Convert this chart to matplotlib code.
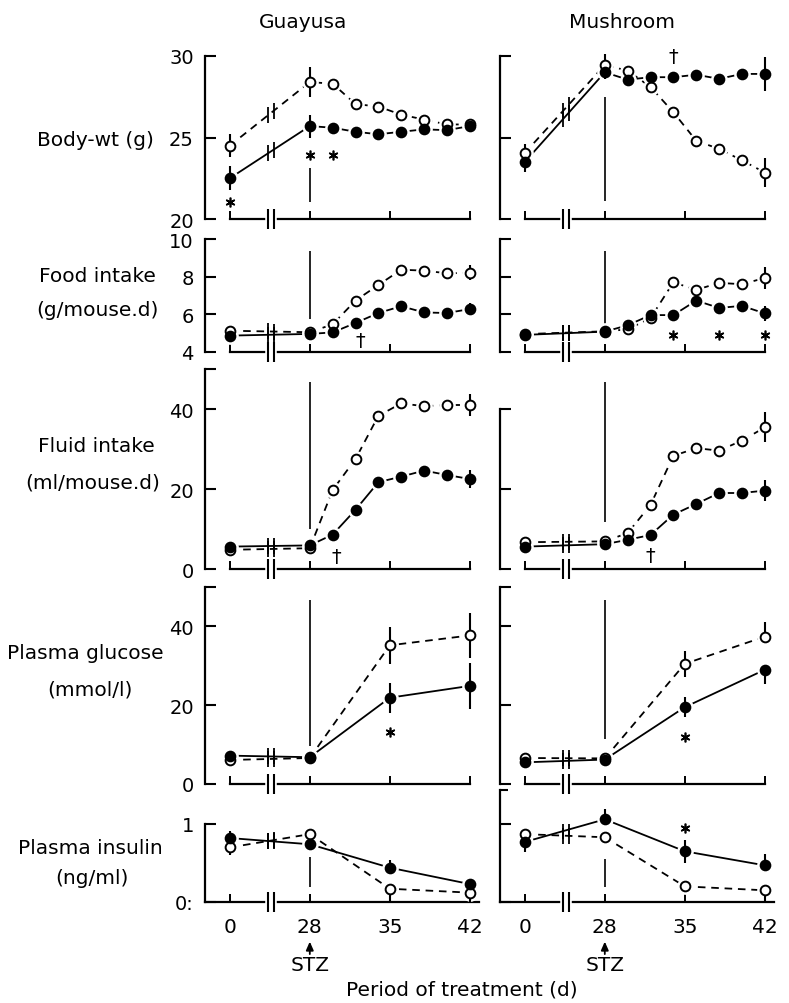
import numpy as np
import matplotlib
matplotlib.use("Agg")
import matplotlib.pyplot as plt
from matplotlib.transforms import offset_copy, blended_transform_factory

plt.rcParams['font.family'] = ['DejaVu Sans']

# ---- data ----
days_wt = [0, 28, 30, 32, 34, 36, 38, 40, 42]   # body-wt, food, fluid
days_pl = [0, 28, 35, 42]                       # plasma values

# body weight (g)
gua_wt_open = [24.5, 28.4, 28.3, 27.05, 26.9, 26.4, 26.1, 25.8, 25.8]
gua_wt_open_err = [0.7, 0.9, 0, 0, 0, 0, 0, 0, 0]
gua_wt_fill = [22.5, 25.7, 25.6, 25.35, 25.2, 25.35, 25.5, 25.45, 25.7]
gua_wt_fill_err = [0.75, 0.7, 0, 0, 0, 0, 0, 0, 0]
mus_wt_open = [24.05, 29.45, 29.1, 28.1, 26.55, 24.8, 24.3, 23.6, 22.85]
mus_wt_open_err = [(0, 0.55), (0, 0.65), 0, 0, 0, 0, 0, 0, 0.9]
mus_wt_fill = [23.5, 29.0, 28.55, 28.7, 28.7, 28.85, 28.6, 28.9, 28.9]
mus_wt_fill_err = [(0.6, 0), 0.4, 0, 0, 0, 0, 0, 0, 1.05]

# food intake (g/mouse.d)
gua_food_open = [5.13, 5.05, 5.47, 6.73, 7.56, 8.37, 8.32, 8.18, 8.2]
gua_food_open_err = [0, 0, 0, 0, 0, 0, 0, 0, 0.4]
gua_food_fill = [4.87, 4.96, 5.04, 5.54, 6.07, 6.43, 6.1, 6.07, 6.28]
gua_food_fill_err = [0, 0, 0, 0, 0, 0, 0, 0, 0.3]
mus_food_open = [4.95, 5.1, 5.2, 5.8, 7.7, 7.3, 7.67, 7.6, 7.93]
mus_food_open_err = [0, 0, 0, 0, 0, 0, 0, 0, 0.6]
mus_food_fill = [4.91, 5.08, 5.42, 5.96, 5.96, 6.73, 6.34, 6.45, 6.05]
mus_food_fill_err = [0, 0, 0, 0, 0, 0, 0, 0, 0.4]

# fluid intake (ml/mouse.d)
gua_fluid_open = [4.8, 5.2, 19.75, 27.5, 38.3, 41.4, 40.7, 41.0, 41.0]
gua_fluid_open_err = [0, 0, 0, 0, 0, 0, 0, 0, 2.7]
gua_fluid_fill = [5.6, 5.9, 8.6, 14.8, 21.7, 23.1, 24.6, 23.5, 22.5]
gua_fluid_fill_err = [0, 0, 0, 0, 0, 0, 0, 0, 2.3]
mus_fluid_open = [6.7, 6.9, 9.0, 16.0, 28.3, 30.2, 29.6, 32.1, 35.4]
mus_fluid_open_err = [0, 0, 0, 0, 0, 0, 0, 0, 3.75]
mus_fluid_fill = [5.6, 6.2, 7.3, 8.5, 13.6, 16.25, 19.0, 19.0, 19.6]
mus_fluid_fill_err = [0, 0, 0, 0, 0, 0, 0, 0, 2.6]

# plasma glucose (mmol/l)
gua_gluc_open = [6.1, 6.6, 35.2, 37.7]
gua_gluc_open_err = [0, 0, 4.7, 5.7]
gua_gluc_fill = [7.2, 6.8, 21.9, 24.9]
gua_gluc_fill_err = [0, 0, 3.8, 5.9]
mus_gluc_open = [6.6, 6.5, 30.5, 37.4]
mus_gluc_open_err = [0, 0, 3.3, (0, 3.8)]
mus_gluc_fill = [5.5, 6.2, 19.5, 29.0]
mus_gluc_fill_err = [0, 0, 2.5, (3.6, 0)]

# plasma insulin (ng/ml)
gua_ins_open = [0.70, 0.87, 0.17, 0.12]
gua_ins_open_err = [(0.1, 0), 0, (0.17, 0), (0.12, 0)]
gua_ins_fill = [0.82, 0.74, 0.44, 0.23]
gua_ins_fill_err = [(0, 0.09), (0.06, 0), (0, 0.1), 0]
mus_ins_open = [0.87, 0.83, 0.2, 0.15]
mus_ins_open_err = [(0, 0.07), (0, 0.06), 0, (0.15, 0)]
mus_ins_fill = [0.77, 1.06, 0.65, 0.47]
mus_ins_fill_err = [(0.13, 0), (0, 0.13), 0.15, (0, 0.14)]

# significance marks (day, value)
stars = {
    (0, 0): [(0, 21.05), (28, 23.9), (30, 23.9)],
    (1, 1): [(34, 4.9), (38, 4.9), (42, 4.9)],
    (3, 0): [(35, 13.3)],
    (3, 1): [(35, 12.0)],
    (4, 1): [(35, 0.95)],
}
daggers = {
    (0, 1): [(34, 30.0)],
    (1, 0): [(32.4, 4.6)],
    (2, 0): [(30.3, 3.0)],
    (2, 1): [(32, 3.3)],
}
# STZ marker line at day 28 (value range)
stz_lines = {
    (0, 0): (21.05, 23.1), (0, 1): (21.1, 27.5),
    (1, 0): (5.75, 9.36), (1, 1): (5.28, 9.38),
    (2, 0): (10.0, 46.75), (2, 1): (11.75, 46.75),
    (3, 0): (9.7, 46.6), (3, 1): (11.5, 46.6),
    (4, 0): (0.19, 0.58), (4, 1): (0.19, 0.55),
}

panels = [
    [(days_wt, gua_wt_open, gua_wt_open_err, gua_wt_fill, gua_wt_fill_err),
     (days_wt, mus_wt_open, mus_wt_open_err, mus_wt_fill, mus_wt_fill_err)],
    [(days_wt, gua_food_open, gua_food_open_err, gua_food_fill, gua_food_fill_err),
     (days_wt, mus_food_open, mus_food_open_err, mus_food_fill, mus_food_fill_err)],
    [(days_wt, gua_fluid_open, gua_fluid_open_err, gua_fluid_fill, gua_fluid_fill_err),
     (days_wt, mus_fluid_open, mus_fluid_open_err, mus_fluid_fill, mus_fluid_fill_err)],
    [(days_pl, gua_gluc_open, gua_gluc_open_err, gua_gluc_fill, gua_gluc_fill_err),
     (days_pl, mus_gluc_open, mus_gluc_open_err, mus_gluc_fill, mus_gluc_fill_err)],
    [(days_pl, gua_ins_open, gua_ins_open_err, gua_ins_fill, gua_ins_fill_err),
     (days_pl, mus_ins_open, mus_ins_open_err, mus_ins_fill, mus_ins_fill_err)],
]

row_labels = [["Body-wt (g)"], ["Food intake", "(g/mouse.d)"],
              ["Fluid intake", "(ml/mouse.d)"], ["Plasma glucose", "(mmol/l)"],
              ["Plasma insulin", "(ng/ml)"]]
col_titles = ["Guayusa", "Mushroom"]
ylims = [(20, 30), (4, 10), (0, 50), (0, 50), (0, 1)]
yticks = [[20, 25, 30], [4, 6, 8, 10], [0, 20, 40, 50], [0, 20, 40, 50], [0, 1]]
yticklabels = [["20", "25", "30"], ["4", "6", "8", "10"], ["0", "20", "40", ""],
               ["0", "20", "40", ""], ["0:", "1"]]
xtick_days = [0, 28, 35, 42]


def pos(days):
    # broken time axis: 0 and 28 one unit apart, then 7 d per unit
    d = np.asarray(days, float)
    return np.where(d < 28, d / 28.0, 1 + (d - 28) / 7.0)


def split_err(errs):
    lo = [e[0] if isinstance(e, tuple) else e for e in errs]
    hi = [e[1] if isinstance(e, tuple) else e for e in errs]
    return np.array(lo), np.array(hi)


def draw_series(ax, days, vals, errs, filled):
    x = pos(days)
    v = np.asarray(vals, float)
    ls = '-' if filled else (0, (4.2, 3.2))
    ax.plot(x, v, color='k', lw=1.3, ls=ls, zorder=2, clip_on=False)
    ax.plot(x, v, ls='none', marker='o', ms=11, mfc='w', mec='w', zorder=3, clip_on=False)
    lo, hi = split_err(errs)
    m = (lo + hi) > 0
    ax.vlines(x[m], (v - lo)[m], (v + hi)[m], color='k', lw=1.5, zorder=3.5, clip_on=False)
    ax.plot(x, v, ls='none', marker='o', ms=7, mfc='k' if filled else 'w',
            mec='k', mew=1.4, zorder=4, clip_on=False)
    # break marks where the 0 -> 28 d segment crosses the axis break
    bx = np.array([0.48, 0.55])
    by = v[0] + bx * (v[1] - v[0])
    ax.plot(bx, by, ls='none', marker='|', ms=11, mew=1.3, color='k', zorder=5)


W, H = 789, 1004
fig = plt.figure(figsize=(W / 100, H / 100), dpi=100)
rows_px = [(57, 220), (240, 353), (370, 570), (588, 785), (825, 903)]
lefts_px = [205, 500]
XLIM = (-0.31, 3.15)
ax_w = (XLIM[1] - XLIM[0]) * 80

for r, (top, bot) in enumerate(rows_px):
    for c, left in enumerate(lefts_px):
        ax = fig.add_axes([left / W, 1 - bot / H, ax_w / W, (bot - top) / H])
        for s in ['top', 'right']:
            ax.spines[s].set_visible(False)
        ax.spines['left'].set_linewidth(1.6)
        ax.spines['bottom'].set_linewidth(1.6)

        yt = list(yticks[r])
        ytop = ylims[r][1]
        if r == 2 and c == 1:
            yt = [0, 20, 40]
            ytop = 40
        if r == 4 and c == 1:
            ytop = 1.43
        ax.set_yticks(yt)
        if c == 0:
            ax.set_yticklabels(yticklabels[r][:len(yt)])
        else:
            ax.set_yticklabels([])
        ax.tick_params(axis='y', direction='in', length=8, width=1.5, pad=8, labelsize=14)

        ax.set_xticks(pos(xtick_days))
        if r == 4:
            ax.set_xticklabels([str(d) for d in xtick_days])
        else:
            ax.set_xticklabels([])
        ax.tick_params(axis='x', direction='in', length=6, width=1.4, pad=11, labelsize=14.5)
        ax.set_xlim(*XLIM)
        ax.set_ylim(*ylims[r])
        ax.spines['left'].set_bounds(ylims[r][0], ytop)
        if ytop > ylims[r][1]:
            # top bracket of the spine above the view limit
            ax.plot([XLIM[0], XLIM[0] + 0.1], [ytop, ytop], color='k', lw=1.5,
                    solid_capstyle='butt', clip_on=False)
        if r == 4:
            ax.spines['bottom'].set_bounds(XLIM[0], 3.12)
        else:
            ax.spines['bottom'].set_bounds(0, 3)
        ax.patch.set_visible(False)

        # axis break
        y0 = ylims[r][0]
        ax.plot([0.48, 0.55], [y0, y0], color='w', lw=4, zorder=3, clip_on=False)
        ax.plot([0.48, 0.55], [y0, y0], ls='none', marker='|', ms=15, mew=1.5,
                color='k', zorder=5, clip_on=False)

        lo, hi = stz_lines[(r, c)]
        ax.vlines(pos([28]), lo, hi, color='k', lw=1.2, zorder=1.5)

        days, vo, eo, vf, ef = panels[r][c]
        draw_series(ax, days, vo, eo, filled=False)
        draw_series(ax, days, vf, ef, filled=True)

        for d, y in stars.get((r, c), []):
            ax.plot(pos([d]), [y], ls='none', marker=(6, 2, 0), ms=7, mew=1.2,
                    color='k', zorder=5, clip_on=False)
        for d, y in daggers.get((r, c), []):
            ax.text(pos([d])[0], y, '\u2020', ha='center', va='center',
                    fontsize=14, zorder=5)

        if r == 4:
            tr = blended_transform_factory(ax.transData, ax.transAxes)
            head = offset_copy(tr, fig=fig, y=-28.5, units='points')
            tail = offset_copy(tr, fig=fig, y=-37.5, units='points')
            ax.annotate('', xy=(1, 0), xycoords=head, xytext=(1, 0), textcoords=tail,
                        arrowprops=dict(arrowstyle='-|>,head_length=0.5,head_width=0.22',
                                        color='k', lw=1.3, shrinkA=0, shrinkB=0))
            stz = offset_copy(tr, fig=fig, y=-45, units='points')
            ax.text(1, 0, 'STZ', transform=stz, ha='center', va='center', fontsize=14.5)

for c, (t, xc) in enumerate(zip(col_titles, [303, 622])):
    fig.text(xc / W, 1 - 22 / H, t, ha='center', va='center', fontsize=14.5)

label_pos = [[(95, 140)], [(97, 277), (97, 311)], [(96, 447), (93, 483)],
             [(85, 654), (90, 690)], [(90, 849), (92, 879)]]
for lines, ps in zip(row_labels, label_pos):
    for txt, (x, y) in zip(lines, ps):
        fig.text(x / W, 1 - y / H, txt, ha='center', va='center', fontsize=14.5)

fig.text(462 / W, 1 - 990 / H, 'Period of treatment (d)', ha='center', va='center', fontsize=14.5)

fig.savefig('out.png', dpi=100)
